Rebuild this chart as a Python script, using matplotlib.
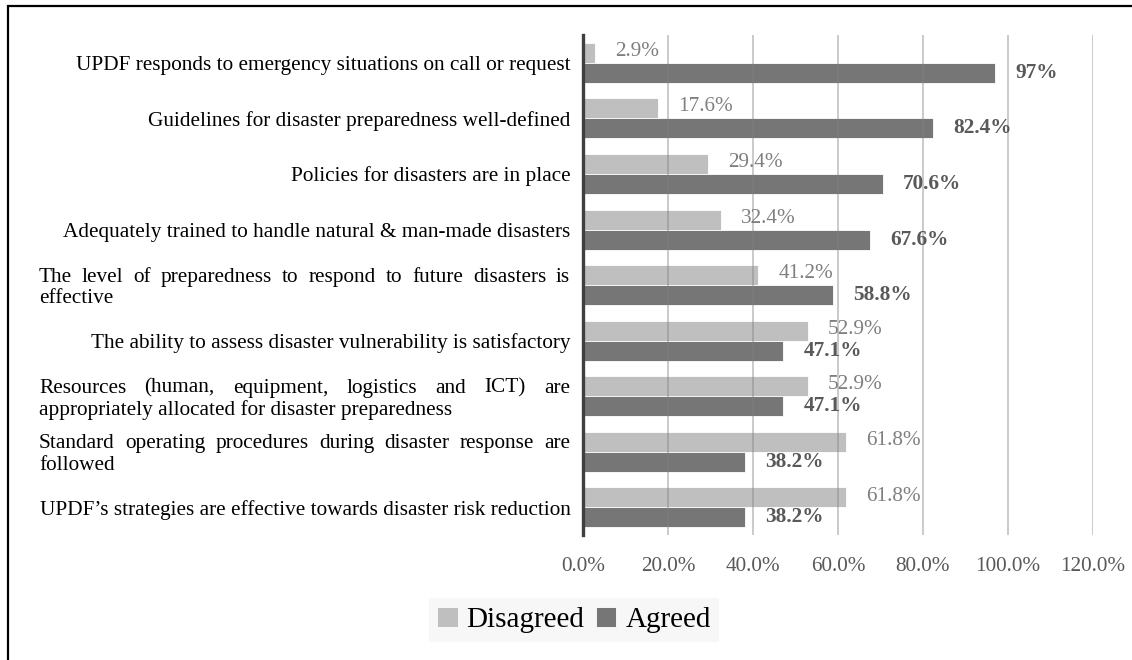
import matplotlib.pyplot as plt
import matplotlib.transforms as mtransforms
import numpy as np
from matplotlib.patches import Rectangle

plt.rcParams['font.family'] = ['Liberation Serif', 'DejaVu Serif']

# Survey statements (top to bottom); "\n" marks where the original wraps
categories = [
    "UPDF responds to emergency situations on call or request",
    "Guidelines for disaster preparedness well-defined",
    "Policies for disasters are in place",
    "Adequately trained to handle natural & man-made disasters",
    "The level of preparedness to respond to future disasters is\neffective",
    "The ability to assess disaster vulnerability is satisfactory",
    "Resources (human, equipment, logistics and ICT) are\nappropriately allocated for disaster preparedness",
    "Standard operating procedures during disaster response are\nfollowed",
    "UPDF\u2019s strategies are effective towards disaster risk reduction",
]
disagreed = [2.9, 17.6, 29.4, 32.4, 41.2, 52.9, 52.9, 61.8, 61.8]
agreed = [97, 82.4, 70.6, 67.6, 58.8, 47.1, 47.1, 38.2, 38.2]
agreed_labels = ["97%", "82.4%", "70.6%", "67.6%", "58.8%", "47.1%", "47.1%", "38.2%", "38.2%"]

light = '#bfbfbf'
dark = '#767676'
label_fs = 15.3

fig = plt.figure(figsize=(11.32, 6.6), dpi=100)
ax = fig.add_axes([0.515, 0.189, 0.4505, 0.758])

y = np.arange(len(categories))
h = 0.36
b1 = ax.barh(y - h / 2, disagreed, height=h, color=light, edgecolor='white', linewidth=0.6,
             label='Disagreed', zorder=2)
b2 = ax.barh(y + h / 2, agreed, height=h, color=dark, edgecolor='white', linewidth=0.6,
             label='Agreed', zorder=2)

# value labels
for yi, v in zip(y, disagreed):
    ax.annotate(f"{v}%", xy=(v, yi - h / 2), xytext=(14.5, 1), textcoords='offset points',
                ha='left', va='center', fontsize=15.3, color='#7f7f7f')
for yi, v, lab in zip(y, agreed, agreed_labels):
    ax.annotate(lab, xy=(v, yi + h / 2), xytext=(14.5, 0), textcoords='offset points',
                ha='left', va='center', fontsize=15.3, color='#595959', fontweight='bold')

ax.set_xlim(0, 120)
ax.set_ylim(len(categories) - 0.5, -0.5)
ax.set_xticks(np.arange(0, 121, 20))
ax.set_xticklabels([f"{t:.1f}%" for t in np.arange(0, 121, 20)], fontsize=15.3, color='#595959')
ax.set_yticks(y)
# single-line labels go on the ticks, wrapped ones are justified by hand below
ax.set_yticklabels(['' if '\n' in c else c for c in categories], fontsize=label_fs, color='black')
ax.tick_params(axis='x', length=0, pad=16)
ax.tick_params(axis='y', length=0, pad=9)

ax.grid(axis='x', color='#808080', alpha=0.45, linewidth=1.3, zorder=3)
ax.set_axisbelow(False)
for s in ['top', 'right', 'bottom']:
    ax.spines[s].set_visible(False)
ax.spines['left'].set_color('#404040')
ax.spines['left'].set_linewidth(2.4)
ax.spines['left'].set_zorder(4)

# justified two-line labels
renderer = fig.canvas.get_renderer()
W = 1132.0
x_right = 570 / W
x_left = 39 / W
trans = mtransforms.blended_transform_factory(fig.transFigure, ax.transData)
for yi, c in zip(y, categories):
    if '\n' not in c:
        continue
    first, second = c.split('\n')
    words = first.split(' ')
    texts = [ax.text(0, 0, w, fontsize=label_fs, transform=trans) for w in words]
    widths = [t.get_window_extent(renderer).width / W for t in texts]
    gap = (x_right - x_left - sum(widths)) / (len(words) - 1)
    x = x_left
    for t, wd in zip(texts, widths):
        t.set_position((x, yi - 0.065))
        t.set_va('baseline')
        x += wd + gap
    ax.text(x_left, yi + 0.33, second, fontsize=label_fs, transform=trans, va='baseline')

leg = fig.legend(handles=[b1, b2], labels=['Disagreed', 'Agreed'], loc='center',
                 bbox_to_anchor=(574 / 1132, 1 - 620 / 660), ncol=2, fontsize=21,
                 frameon=True, facecolor='#f7f7f7', edgecolor='none', fancybox=False,
                 handlelength=0.7, handleheight=0.7, handletextpad=0.3, columnspacing=0.4,
                 borderpad=0.3)
leg.get_frame().set_alpha(1)

# outer border (partly cut off at right and bottom)
fig.patches.append(Rectangle((8 / 1132, -0.5), 1.5, 1.5 - 6 / 660, transform=fig.transFigure,
                             fill=False, edgecolor='black', linewidth=1.6))

fig.savefig('out.png', dpi=100)
